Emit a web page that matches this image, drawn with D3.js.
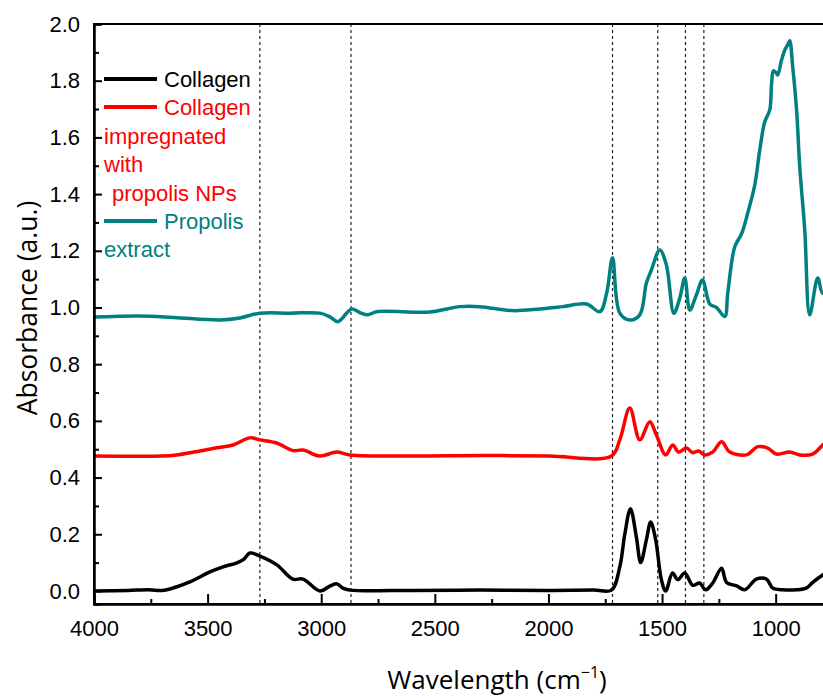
<!DOCTYPE html>
<html>
<head>
<meta charset="utf-8">
<script src="https://cdn.jsdelivr.net/npm/d3@7"></script>
<style>
  body { margin: 0; background: #fff; }
  svg { display: block; }
</style>
</head>
<body>
<div id="chart"></div>
<script>
// spectra: [wavenumber (cm-1), absorbance]
var collagen = [
  [4000, 0.0], [3850, 0.002], [3760, 0.004], [3700, 0.002], [3666, 0.007], [3578, 0.032],
  [3490, 0.067], [3432, 0.085], [3371, 0.099], [3340, 0.112], [3314, 0.134], [3270, 0.123],
  [3195, 0.092], [3125, 0.042], [3080, 0.042], [3006, 0.0], [2960, 0.018], [2931, 0.025],
  [2905, 0.01], [2874, 0.003], [2600, 0.002], [2300, 0.003], [2000, 0.002], [1800, 0.003],
  [1723, 0.003], [1686, 0.085], [1664, 0.2], [1639, 0.29], [1613, 0.19], [1594, 0.1],
  [1569, 0.18], [1550, 0.243], [1528, 0.18], [1503, 0.04], [1484, 0.0], [1454, 0.063],
  [1431, 0.04], [1400, 0.063], [1365, 0.02], [1335, 0.028], [1308, 0.004], [1277, 0.028],
  [1238, 0.08], [1216, 0.03], [1172, 0.018], [1136, 0.004], [1085, 0.042], [1041, 0.042],
  [1013, 0.01], [969, 0.004], [908, 0.004], [865, 0.01], [837, 0.03], [793, 0.056], [760, 0.07]
];

var collagenNPs = [
  [4000, 0.476], [3700, 0.476], [3636, 0.48], [3534, 0.494], [3460, 0.505], [3388, 0.515],
  [3314, 0.54], [3270, 0.533], [3196, 0.522], [3124, 0.495], [3080, 0.497], [3006, 0.476],
  [2932, 0.49], [2874, 0.48], [2600, 0.476], [2300, 0.478], [2000, 0.476], [1723, 0.476],
  [1686, 0.533], [1642, 0.645], [1598, 0.533], [1554, 0.597], [1525, 0.55], [1484, 0.48],
  [1453, 0.515], [1427, 0.49], [1393, 0.504], [1365, 0.488], [1339, 0.494], [1312, 0.48],
  [1277, 0.49], [1238, 0.526], [1202, 0.49], [1128, 0.48], [1079, 0.509], [1035, 0.504],
  [997, 0.483], [938, 0.49], [894, 0.48], [837, 0.483], [793, 0.515], [760, 0.54]
];

var propolis = [
  [4000, 0.966], [3800, 0.97], [3650, 0.965], [3446, 0.956], [3358, 0.963], [3270, 0.98],
  [3138, 0.98], [3006, 0.98], [2962, 0.967], [2927, 0.95], [2888, 0.98], [2866, 0.995],
  [2830, 0.982], [2795, 0.974], [2756, 0.985], [2522, 0.984], [2390, 1.003], [2302, 1.003],
  [2157, 0.989], [2038, 0.995], [1937, 1.003], [1832, 1.012], [1774, 0.985], [1744, 1.05],
  [1718, 1.175], [1686, 0.98], [1642, 0.956], [1598, 0.974], [1569, 1.086], [1547, 1.132],
  [1510, 1.203], [1481, 1.15], [1448, 0.98], [1422, 1.033], [1400, 1.104], [1378, 0.991],
  [1349, 1.044], [1322, 1.097], [1290, 1.012], [1261, 1.0], [1224, 0.968], [1211, 1.05],
  [1180, 1.214], [1150, 1.26], [1123, 1.333], [1092, 1.432], [1070, 1.556], [1048, 1.655],
  [1026, 1.697], [1018, 1.79], [1010, 1.835], [1000, 1.83], [991, 1.82], [975, 1.87],
  [960, 1.908], [945, 1.93], [938, 1.941], [925, 1.849], [908, 1.697], [894, 1.496],
  [872, 1.273], [850, 0.974], [815, 1.104], [793, 1.05], [760, 1.08]
];

var markers = [3270, 2869, 1718, 1519, 1397, 1316];

var xTicks = [4000, 3500, 3000, 2500, 2000, 1500, 1000];
var xMinor = [3750, 3250, 2750, 2250, 1750, 1250, 750];
var yTicks = [0.0, 0.2, 0.4, 0.6, 0.8, 1.0, 1.2, 1.4, 1.6, 1.8, 2.0];
var yMinor = [0.1, 0.3, 0.5, 0.7, 0.9, 1.1, 1.3, 1.5, 1.7, 1.9];

var seriesColors = ["#000000", "#ff0000", "#008080"];

var w = 823, h = 698;
var mLeft = 94, mRight = 912, mTop = 24, mBottom = 604;

var x = d3.scaleLinear().domain([4000, 400]).range([mLeft, mRight]);
var y = d3.scaleLinear().domain([-0.046, 2.0]).range([mBottom, mTop]);

var svg = d3.select("#chart").append("svg")
      .attr("width", w)
      .attr("height", h)
      .style("font-family", "Arial, 'Liberation Sans', sans-serif");

svg.append("defs").append("clipPath")
  .attr("id", "plot-clip")
  .append("rect")
  .attr("x", mLeft).attr("y", mTop)
  .attr("width", mRight - mLeft).attr("height", mBottom - mTop);

// dashed marker lines
svg.append("g")
  .selectAll("line")
  .data(markers)
  .enter().append("line")
  .attr("x1", (d) => x(d)).attr("x2", (d) => x(d))
  .attr("y1", mTop).attr("y2", mBottom)
  .attr("stroke", "#222")
  .attr("stroke-width", 1.2)
  .attr("stroke-dasharray", "3,3");

// spectra
var line = d3.line()
      .x((d) => x(d[0]))
      .y((d) => y(d[1]))
      .curve(d3.curveCatmullRom.alpha(0.5));

svg.append("g")
  .attr("clip-path", "url(#plot-clip)")
  .selectAll("path")
  .data([collagen, collagenNPs, propolis])
  .enter().append("path")
  .attr("d", line)
  .attr("fill", "none")
  .attr("stroke", (d, i) => seriesColors[i])
  .attr("stroke-width", 3.5)
  .attr("stroke-linejoin", "round");

// frame
svg.append("rect")
  .attr("x", mLeft).attr("y", mTop)
  .attr("width", mRight - mLeft).attr("height", mBottom - mTop)
  .attr("fill", "none")
  .attr("stroke", "#000")
  .attr("stroke-width", 2);

// axes (ticks point inward)
var xAxis = svg.append("g")
      .attr("transform", "translate(0," + mBottom + ")")
      .call(d3.axisBottom(x).tickValues(xTicks).tickSize(-10).tickPadding(16).tickFormat(d3.format("d")));
var xAxisMinor = svg.append("g")
      .attr("transform", "translate(0," + mBottom + ")")
      .call(d3.axisBottom(x).tickValues(xMinor).tickSize(-5).tickFormat(""));

var yAxis = svg.append("g")
      .attr("transform", "translate(" + mLeft + ",0)")
      .call(d3.axisLeft(y).tickValues(yTicks).tickSize(-8).tickPadding(14).tickFormat(d3.format(".1f")));
var yAxisMinor = svg.append("g")
      .attr("transform", "translate(" + mLeft + ",0)")
      .call(d3.axisLeft(y).tickValues(yMinor).tickSize(-5).tickFormat(""));

[xAxis, xAxisMinor, yAxis, yAxisMinor].forEach((g) => {
  g.select(".domain").attr("stroke-width", 2);
  g.selectAll(".tick line").attr("stroke-width", 2);
  g.selectAll("text")
    .style("font-family", "Arial, 'Liberation Sans', sans-serif")
    .style("font-size", "22px")
    .attr("fill", "#000");
});

// axis titles
var xTitle = svg.append("text")
  .attr("x", 497).attr("y", 689)
  .attr("text-anchor", "middle")
  .style("font-family", "'Open Sans', sans-serif")
  .style("font-size", "26px")
  .text("Wavelength (cm");
xTitle.append("tspan").attr("baseline-shift", "super").style("font-size", "16px").text("\u22121");
xTitle.append("tspan").text(")");

svg.append("text")
  .attr("transform", "translate(37,308) rotate(-90)")
  .attr("text-anchor", "middle")
  .style("font-family", "'Open Sans', sans-serif")
  .style("font-size", "26.5px")
  .text("Absorbance (a.u.)");

// legend, wrapped as in the original
var legendRows = [
  {line: 0, text: "Collagen", x: 164, yc: 79, c: 0},
  {line: 1, text: "Collagen", x: 164, yc: 107, c: 1},
  {text: "impregnated", x: 104, yc: 136, c: 1},
  {text: "with", x: 104, yc: 164, c: 1},
  {text: "propolis NPs", x: 112, yc: 193, c: 1},
  {line: 2, text: "Propolis", x: 164, yc: 221, c: 2},
  {text: "extract", x: 104, yc: 249, c: 2}
];

var legend = svg.append("g");
legendRows.filter((d) => d.line !== undefined).forEach((d) => {
  legend.append("line")
    .attr("x1", 104).attr("x2", 157)
    .attr("y1", d.yc).attr("y2", d.yc)
    .attr("stroke", seriesColors[d.c])
    .attr("stroke-width", 4);
});
legend.selectAll("text")
  .data(legendRows)
  .enter().append("text")
  .attr("x", (d) => d.x)
  .attr("y", (d) => d.yc + 8)
  .attr("fill", (d) => seriesColors[d.c])
  .style("font-size", "22px")
  .text((d) => d.text);
</script>
</body>
</html>
